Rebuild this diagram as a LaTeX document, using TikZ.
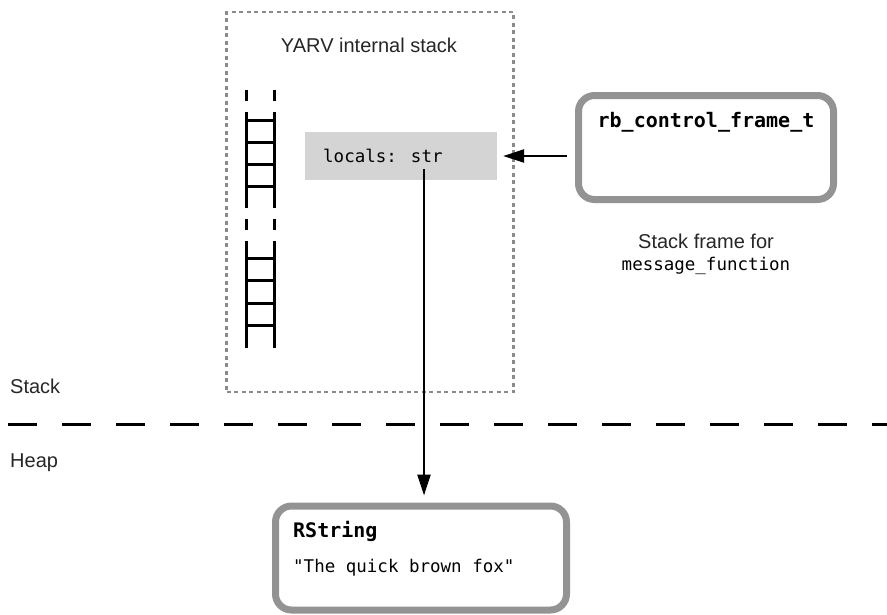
\documentclass[tikz,border=0pt]{standalone}
\usepackage{fontspec}
\setmainfont{Liberation Sans}
\newfontfamily\codefont{DejaVu Sans Mono}
\usetikzlibrary{arrows.meta}
\definecolor{framegray}{HTML}{939393}
\definecolor{dotgray}{HTML}{8A8A8A}
\definecolor{cellgray}{HTML}{D4D4D4}
\tikzset{
  lbl/.style={font=\fontsize{20}{22}\selectfont, inner sep=0pt, text=black!85},
  code/.style={font=\codefont\fontsize{17.5}{21}\selectfont, inner sep=0pt},
  codebold/.style={font=\codefont\bfseries\fontsize{20}{24}\selectfont, inner sep=0pt},
  framebox/.style={draw=framegray, line width=7pt, rounded corners=16pt, fill=white, inner sep=0pt},
  dotbox/.style={draw=dotgray, line width=2.2pt, dash pattern=on 4pt off 3.5pt, inner sep=0pt},
  cell/.style={fill=cellgray, inner sep=0pt},
  rail/.style={line width=3pt, black},
  railgap/.style={line width=3pt, black, dash pattern=on 11pt off 11pt},
  ptr/.style={line width=2.5pt, -{Triangle[length=21pt,width=13pt]}},
  divider/.style={line width=3pt, dash pattern=on 29pt off 25pt}
}
\begin{document}
\begin{tikzpicture}[x=1pt,y=-1pt]
\useasboundingbox (0,0) rectangle (887,614);
% Stack/heap boundary
\coordinate (divL) at (8,424);
\coordinate (divR) at (887,424);
\draw[divider] (divL) -- (divR);
\node[lbl, anchor=base west] (stacklbl) at (10,393) {Stack};
\node[lbl, anchor=base west] (heaplbl) at (10,467) {Heap};
% YARV internal stack
\node[dotbox, minimum width=287pt, minimum height=380pt] (yarv) at (370,202) {};
\node[lbl] (yarvtitle) at (369,45) {YARV internal stack};
% ladder
\foreach \x [count=\i] in {246,274}{
  \coordinate (ta\i) at (\x,90);
  \coordinate (tb\i) at (\x,112);
  \coordinate (tc\i) at (\x,197);
  \coordinate (td\i) at (\x,250);
  \coordinate (te\i) at (\x,337);
  \coordinate (tf\i) at (\x,359);
  \draw[railgap] (ta\i) -- (tb\i);
  \draw[rail] (tb\i) -- (tc\i);
  \draw[railgap] (tc\i) -- (td\i);
  \draw[rail] (td\i) -- (te\i);
  \draw[railgap] (te\i) -- (tf\i);
}
\foreach \y in {120,142,164,186,258,280,303,325}{
  \coordinate (rl) at (246,\y);
  \coordinate (rr) at (274,\y);
  \draw[rail] (rl) -- (rr);
}
% locals cell
\node[cell, minimum width=192pt, minimum height=48pt] (locals) at (401,156) {};
\node[code, anchor=west] (localstxt) at (323,156) {locals: str};
\coordinate (pstart) at (424,169);
% control frame
\node[framebox, minimum width=255pt, minimum height=104pt] (cfp) at (706,147.5) {};
\node[codebold, anchor=base] (cfptitle) at (706,127) {rb\_control\_frame\_t};
\node[lbl] (cfpcap) at (706,241) {Stack frame for};
\node[code] (cfpcap2) at (706,266) {message\_function};
% RString
\node[framebox, minimum width=291pt, minimum height=104pt] (rstr) at (421,558) {};
\node[codebold, anchor=base west] (rstrtitle) at (293,537) {RString};
\node[code, anchor=base west] (rstrtext) at (293,572) {"The quick brown fox"};
% pointers
\draw[ptr, shorten <=8pt, shorten >=6pt] (cfp.west |- locals.east) -- (locals.east);
\draw[ptr, shorten >=7pt] (pstart) -- (pstart |- rstr.north);
\end{tikzpicture}
\end{document}
